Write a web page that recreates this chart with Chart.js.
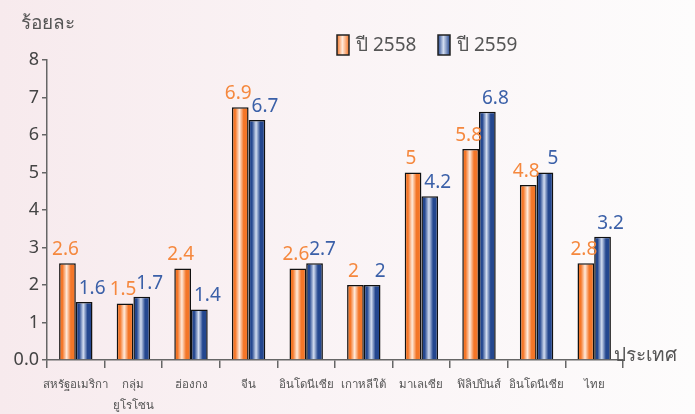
<!DOCTYPE html>
<html>
<head>
<meta charset="utf-8">
<script src="https://cdn.jsdelivr.net/npm/chart.js@4/dist/chart.umd.min.js"></script>
<style>
    html, body {margin: 0; padding: 0;}
    body {width: 695px; height: 414px; background: linear-gradient(to right, #f7eaed 0%, #faf3f5 45%, #fdfcfc 100%);}
    #wrap {position: relative; width: 695px; height: 414px;}
</style>
</head>
<body>
<div id="wrap"><canvas id="chart" width="695" height="414"></canvas></div>
<script>
let categories = ['สหรัฐอเมริกา', ['กลุ่ม', 'ยูโรโซน'], 'ฮ่องกง', 'จีน', 'อินโดนีเซีย', 'เกาหลีใต้', 'มาเลเซีย', 'ฟิลิปปินส์', 'อินโดนีเซีย', 'ไทย'];
let seriesNames = ['ปี 2558', 'ปี 2559'];
// bar heights as drawn in the picture
let values2558 = [2.58, 1.51, 2.44, 6.74, 2.44, 2.0, 5.0, 5.63, 4.67, 2.58];
let values2559 = [1.55, 1.69, 1.35, 6.4, 2.58, 2.0, 4.37, 6.62, 5.0, 3.29];
// printed value labels
let labels2558 = ['2.6', '1.5', '2.4', '6.9', '2.6', '2', '5', '5.8', '4.8', '2.8'];
let labels2559 = ['1.6', '1.7', '1.4', '6.7', '2.7', '2', '4.2', '6.8', '5', '3.2'];
let yTicks = [0, 1, 2, 3, 4, 5, 6, 7, 8];

const FONT = '"Noto Sans", "Open Sans", sans-serif';
const catPct = 0.58;
let palette = [
    {edge: '#f47628', mid: '#ffeadb', text: '#f5883e'},
    {edge: '#24478f', mid: '#d3ddf0', text: '#3b60a8'}
];

function barFill(index) {
    return function (c) {
        let chart = c.chart, xs = chart.scales.x;
        let p = palette[index];
        if (!xs || !chart.chartArea || c.dataIndex === undefined) return p.edge;
        let cw = xs.width / categories.length;
        let bw = cw * catPct / 2;
        let cx = xs.getPixelForValue(c.dataIndex) + (index === 0 ? -bw / 2 : bw / 2);
        let g = chart.ctx.createLinearGradient(cx - bw / 2, 0, cx + bw / 2, 0);
        g.addColorStop(0, p.edge);
        g.addColorStop(0.2, p.edge);
        g.addColorStop(0.45, p.mid);
        g.addColorStop(0.7, p.edge);
        g.addColorStop(1, p.edge);
        return g;
    };
}

let extras = {
    id: 'extras',
    afterDatasetsDraw: function (chart) {
        let ctx = chart.ctx;
        ctx.save();
        // value labels
        let sets = [labels2558, labels2559];
        let shift = [-2, 8];
        ctx.font = '19px ' + FONT;
        ctx.textAlign = 'center';
        ctx.textBaseline = 'bottom';
        sets.forEach(function (texts, di) {
            chart.getDatasetMeta(di).data.forEach(function (el, i) {
                ctx.fillStyle = palette[di].text;
                ctx.fillText(texts[i], el.x + shift[di], el.y - 4);
            });
        });
        // axis titles
        ctx.fillStyle = '#555';
        ctx.font = '19px ' + FONT;
        ctx.textAlign = 'left';
        ctx.textBaseline = 'middle';
        ctx.fillText('ร้อยละ', 21, 24);
        ctx.fillText('ประเทศ', 614, 356);
        // legend
        let lx = [337, 438];
        seriesNames.forEach(function (name, di) {
            let g = ctx.createLinearGradient(lx[di], 0, lx[di] + 12, 0);
            g.addColorStop(0, palette[di].edge);
            g.addColorStop(0.45, palette[di].mid);
            g.addColorStop(1, palette[di].edge);
            ctx.fillStyle = g;
            ctx.fillRect(lx[di], 35, 12, 20);
            ctx.strokeStyle = '#222';
            ctx.lineWidth = 1.5;
            ctx.strokeRect(lx[di], 35, 12, 20);
            ctx.fillStyle = '#555';
            ctx.fillText(name, lx[di] + 19, 46);
        });
        ctx.restore();
    }
};

new Chart(document.getElementById('chart'), {
    type: 'bar',
    data: {
        labels: categories,
        datasets: [
            {label: seriesNames[0], data: values2558, backgroundColor: barFill(0), borderColor: '#111', borderWidth: 1.5},
            {label: seriesNames[1], data: values2559, backgroundColor: barFill(1), borderColor: '#111', borderWidth: 1.5}
        ]
    },
    options: {
        responsive: false,
        animation: false,
        datasets: {bar: {categoryPercentage: catPct, barPercentage: 1}},
        layout: {padding: {top: 60, right: 72, left: 0, bottom: 0}},
        plugins: {legend: {display: false}, tooltip: {enabled: false}},
        scales: {
            x: {
                offset: true,
                grid: {offset: true, drawOnChartArea: false, drawTicks: true, tickLength: 8, color: '#666', lineWidth: 1.5},
                border: {color: '#666', width: 1.5},
                ticks: {color: '#555', font: {size: 11.5, family: FONT, lineHeight: 1.85}, padding: 6, maxRotation: 0, autoSkip: false},
                afterFit: function (s) { s.height = 54; }
            },
            y: {
                min: 0,
                max: 8,
                afterBuildTicks: function (s) { s.ticks = yTicks.map(function (v) { return {value: v}; }); },
                grid: {drawOnChartArea: false, drawTicks: true, tickLength: 5, color: '#666', lineWidth: 1.5},
                border: {color: '#666', width: 1.5},
                ticks: {
                    color: '#444',
                    font: {size: 18, family: FONT},
                    padding: 3,
                    callback: function (v) { return v === 0 ? '0.0' : v; }
                },
                afterFit: function (s) { s.width = 47; }
            }
        }
    },
    plugins: [extras]
});
</script>
</body>
</html>
